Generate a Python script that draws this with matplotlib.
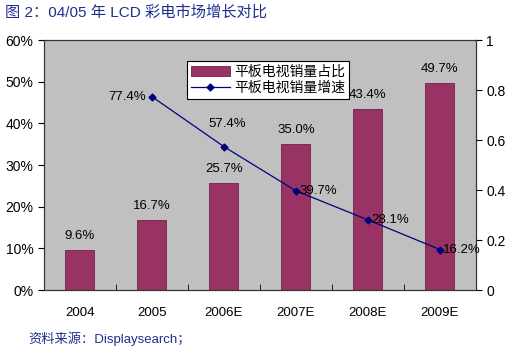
import matplotlib
matplotlib.use('Agg')
import matplotlib.pyplot as plt
from matplotlib.ticker import FuncFormatter, FixedLocator

plt.rcParams['font.family'] = ['Liberation Sans', 'Noto Sans CJK SC', 'DejaVu Sans']

years = ['2004', '2005', '2006E', '2007E', '2008E', '2009E']
share = [9.6, 16.7, 25.7, 35.0, 43.4, 49.7]
growth_years = [1, 2, 3, 4, 5]
growth = [0.774, 0.574, 0.397, 0.281, 0.162]
growth_labels = ['77.4%', '57.4%', '39.7%', '28.1%', '16.2%']

fig = plt.figure(figsize=(5.1, 3.55), dpi=100)
ax = fig.add_axes([0.086, 0.183, 0.847, 0.704])
ax.set_facecolor('#c0c0c0')
x = list(range(len(years)))
ax.bar(x, share, width=0.4, color='#993366', edgecolor='#6e2246', linewidth=0.6,
       label='平板电视销量占比', zorder=2)
for xi, v in zip(x, share):
    ax.text(xi, v + 2.0, f'{v:.1f}%', ha='center', va='bottom', fontsize=9.5)
ax.set_ylim(0, 60)
ax.set_xlim(-0.5, 5.5)
ax.set_yticks(range(0, 61, 10))
ax.yaxis.set_major_formatter(FuncFormatter(lambda v, _: f'{int(v)}%'))
ax.set_xticks(x)
ax.set_xticklabels(years)
ax.xaxis.set_minor_locator(FixedLocator([i - 0.5 for i in range(1, 6)]))
ax.tick_params(axis='x', which='major', length=0, pad=12, labelsize=9.5)
ax.tick_params(axis='x', which='minor', length=4, direction='in')
ax.tick_params(axis='y', labelsize=10, length=4)

ax2 = ax.twinx()
ax2.plot(growth_years, growth, color='#000080', marker='D', markersize=3.5,
         linewidth=0.9, label='平板电视销量增速', zorder=3)
ax2.set_ylim(0, 1)
ax2.set_yticks([0, 0.2, 0.4, 0.6, 0.8, 1])
ax2.set_yticklabels(['0', '0.2', '0.4', '0.6', '0.8', '1'])
ax2.tick_params(axis='y', labelsize=10, length=4)
offsets = [(-0.08, 0.0, 'right'), (0.05, 0.09, 'center'), (0.05, 0.0, 'left'),
           (0.05, 0.0, 'left'), (0.05, 0.0, 'left')]
for xi, v, lab, (dx, dy, ha) in zip(growth_years, growth, growth_labels, offsets):
    ax2.text(xi + dx, v + dy, lab, ha=ha, va='center', fontsize=9.5)

for a in (ax, ax2):
    for s in a.spines.values():
        s.set_color('#333333')
        s.set_linewidth(0.8)

h1, l1 = ax.get_legend_handles_labels()
h2, l2 = ax2.get_legend_handles_labels()
leg = ax2.legend(h1 + h2, l1 + l2, loc='upper left', bbox_to_anchor=(0.315, 0.945),
                 fontsize=10, frameon=True, fancybox=False, edgecolor='black',
                 framealpha=1, handlelength=2.8, borderpad=0.3, labelspacing=0.15,
                 handletextpad=0.3)
leg.get_frame().set_linewidth(0.8)

fig.text(0.01, 0.965, '图 2：04/05 年 LCD 彩电市场增长对比', color='#1f2f8f',
         fontsize=11, ha='left', va='center')
fig.text(0.055, 0.045, '资料来源：Displaysearch；', color='#1f2f8f',
         fontsize=9.5, ha='left', va='center')

fig.savefig('out.png', dpi=100)
